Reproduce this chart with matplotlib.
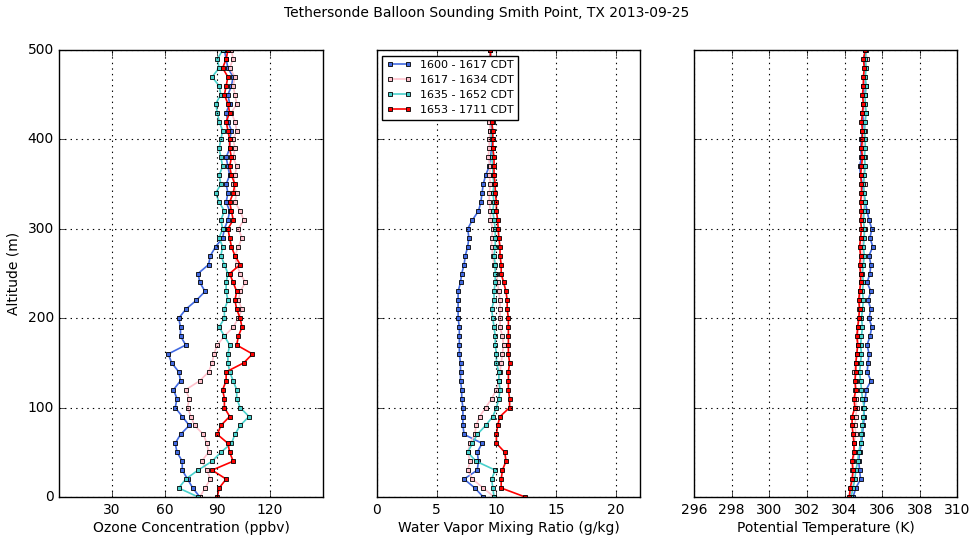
import numpy as np
import matplotlib
matplotlib.use("Agg")
import matplotlib.pyplot as plt

# Tethersonde profiles, Smith Point TX, 2013-09-25
# values read off the soundings every 10 m

alt = np.arange(0, 501, 10)

labels = ["1600 - 1617 CDT", "1617 - 1634 CDT",
          "1635 - 1652 CDT", "1653 - 1711 CDT"]
colors = ["royalblue", "pink", "mediumturquoise", "red"]

#-- ozone (ppbv)
o3_1600 = [80, 76, 73, 70, 70, 67, 66, 69, 74, 70, 66, 67, 65, 69, 68, 64, 62,
           72, 69, 69, 68, 72, 78, 83, 80, 79, 85, 86, 89, 93, 94, 96, 97, 95,
           96, 95, 97, 96, 95, 97, 97, 98, 96, 95, 97, 96, 98, 99, 96, 95, 94]
o3_1617 = [80, 83, 86, 84, 81, 85, 84, 82, 77, 75, 73, 74, 72, 80, 85, 87, 88,
           90, 94, 99, 102, 104, 102, 103, 106, 103, 101, 100, 102, 104, 102,
           105, 103, 100, 101, 99, 100, 101, 99, 100, 99, 101, 100, 98, 101,
           100, 99, 100, 97, 99, 98]
o3_1635 = [79, 68, 72, 79, 87, 92, 98, 100, 103, 108, 103, 101, 101, 99, 97,
           96, 96, 97, 94, 91, 94, 94, 96, 95, 95, 96, 94, 92, 93, 91, 93, 92,
           94, 91, 89, 92, 91, 93, 92, 91, 92, 93, 91, 90, 89, 92, 91, 87, 91,
           90, 93]
o3_1653 = [90, 91, 95, 87, 99, 97, 96, 90, 92, 97, 94, 94, 93, 95, 95, 105,
           110, 101, 102, 104, 103, 101, 100, 101, 99, 97, 103, 100, 98, 97,
           96, 99, 98, 97, 99, 100, 98, 97, 98, 97, 97, 96, 95, 97, 96, 94, 95,
           96, 93, 95, 96]

#-- water vapour mixing ratio (g/kg)
qv_1600 = [8.9, 8.2, 7.3, 8.4, 8.5, 8.4, 8.8, 7.3, 7.2, 7.2, 7.2, 7.1, 7.1,
           7.0, 7.0, 7.0, 6.9, 6.9, 6.9, 6.9, 6.8, 6.8, 6.8, 6.8, 7.0, 7.1,
           7.3, 7.4, 7.6, 7.7, 7.6, 8.0, 8.5, 8.7, 8.8, 8.9, 9.1, 9.4, 9.5,
           9.6, 9.6, 9.5, 9.6, 9.5, 9.4, 9.5, 9.6, 9.5, 9.4, 9.5, 9.5]
qv_1617 = [9.8, 8.9, 8.0, 7.6, 7.8, 7.6, 7.8, 8.2, 8.3, 8.6, 9.1, 9.6, 10.0,
           10.2, 10.3, 10.4, 10.5, 10.6, 10.5, 10.3, 10.3, 10.3, 10.3, 10.2,
           10.1, 10.0, 9.8, 9.7, 9.6, 9.6, 9.7, 9.5, 9.5, 9.4, 9.4, 9.5, 9.4,
           9.5, 9.3, 9.4, 9.4, 9.5, 9.4, 9.5, 9.4, 9.5, 9.4, 9.5, 9.4, 9.5,
           9.5]
qv_1635 = [9.8, 9.7, 9.6, 9.9, 8.3, 7.6, 8.0, 8.4, 9.1, 9.7, 10.0, 10.2, 10.3,
           10.2, 10.2, 10.0, 10.0, 9.9, 9.9, 9.8, 9.7, 9.6, 9.8, 9.8, 9.9, 9.9,
           9.9, 9.8, 9.9, 9.9, 9.9, 9.8, 9.7, 9.8, 9.7, 9.8, 9.7, 9.7, 9.6,
           9.7, 9.6, 9.6, 9.7, 9.6, 9.6, 9.5, 9.6, 9.5, 9.6, 9.5, 9.5]
qv_1653 = [12.4, 10.4, 10.4, 10.5, 10.8, 10.7, 10.0, 10.0, 10.1, 10.3, 11.1,
           11.1, 11.0, 11.0, 11.0, 11.1, 11.0, 11.0, 11.0, 11.0, 11.0, 10.9,
           10.9, 10.8, 10.6, 10.4, 10.4, 10.3, 10.3, 10.2, 10.15, 10.1, 10.0,
           10.0, 9.9, 9.9, 9.8, 9.8, 9.8, 9.7, 9.7, 9.7, 9.6, 9.6, 9.6, 9.6,
           9.5, 9.6, 9.5, 9.5, 9.5]

#-- potential temperature (K)
th_1600 = [304.45, 304.6, 304.85, 304.8, 304.75, 304.8, 304.9, 304.95, 305.0,
           305.05, 305.0, 305.1, 305.15, 305.4, 305.2, 305.25, 305.3, 305.2,
           305.35, 305.45, 305.3, 305.4, 305.25, 305.4, 305.2, 305.35, 305.4,
           305.3, 305.5, 305.35, 305.45, 305.3, 305.2, 305.1, 305.0, 304.95,
           304.85, 304.8, 304.9, 304.85, 304.9, 304.95, 305.0, 304.95, 305.0,
           305.05, 305.0, 305.05, 305.1, 305.05, 305.1]
th_1617 = [304.3, 304.35, 304.5, 304.4, 304.45, 304.55, 304.5, 304.6, 304.55,
           304.6, 304.65, 304.6, 304.55, 304.6, 304.5, 304.6, 304.65, 304.7,
           304.75, 304.7, 304.8, 304.75, 304.85, 304.8, 304.9, 304.85, 304.9,
           304.95, 304.9, 305.0, 305.1, 304.95, 305.0, 305.05, 304.95, 305.1,
           305.0, 305.05, 305.1, 305.0, 305.05, 305.1, 305.05, 305.15, 305.0,
           305.1, 305.15, 305.05, 305.1, 305.2, 305.1]
th_1635 = [304.35, 304.45, 304.55, 304.6, 304.7, 304.75, 304.85, 304.9,
           304.95, 305.0, 305.05, 304.95, 304.9, 304.85, 304.8, 304.85, 304.9,
           304.85, 304.9, 304.95, 304.9, 304.95, 305.0, 304.95, 305.0, 304.95,
           305.0, 305.05, 305.0, 305.05, 305.05, 305.0, 305.05, 305.1, 305.05,
           305.0, 305.05, 305.1, 305.05, 305.1, 305.1, 305.05, 305.1, 305.15,
           305.1, 305.1, 305.15, 305.1, 305.15, 305.1, 305.15]
th_1653 = [304.25, 304.3, 304.4, 304.45, 304.4, 304.5, 304.5, 304.45, 304.4,
           304.4, 304.55, 304.5, 304.6, 304.55, 304.6, 304.6, 304.65, 304.7,
           304.65, 304.7, 304.75, 304.8, 304.75, 304.8, 304.85, 304.85, 304.8,
           304.85, 304.8, 304.85, 304.9, 304.85, 304.9, 304.85, 304.9, 304.9,
           304.85, 304.9, 304.95, 304.9, 304.95, 304.95, 304.9, 304.95, 305.0,
           304.95, 305.0, 305.0, 305.05, 305.0, 305.1]


def draw_profiles(ax, series, show_legend=False):

#-- one line per sounding, square markers with black edges

    for vals, col, lab in zip(series, colors, labels):
        ax.plot(vals, alt, "-s", color=col, lw=1.2, ms=3.0,
                mfc=col, mec="k", mew=0.6, label=lab)

    ax.set_ylim(0, 500)
    ax.set_yticks(np.arange(0, 501, 100))
    ax.grid(True, color="k", linestyle=":", linewidth=0.8)
    ax.tick_params(direction="in", top=True, right=True,
                   labelsize=10, length=4)

    if (show_legend):
        ax.legend(loc="upper left", fontsize=8, numpoints=2,
                  fancybox=False, framealpha=1.0, edgecolor="k",
                  handlelength=2.2, borderpad=0.4, labelspacing=0.45)


plt.style.use("classic")

fig, axs = plt.subplots(1, 3, figsize=(9.73, 5.39), dpi=100,
                        facecolor="w")
fig.subplots_adjust(left=0.061, right=0.984, bottom=0.078,
                    top=0.907, wspace=0.205)

draw_profiles(axs[0], [o3_1600, o3_1617, o3_1635, o3_1653])
axs[0].set_xlim(0, 150)
axs[0].set_xticks([30, 60, 90, 120])
axs[0].set_xlabel("Ozone Concentration (ppbv)", fontsize=10)
axs[0].set_ylabel("Altitude (m)", fontsize=10)

draw_profiles(axs[1], [qv_1600, qv_1617, qv_1635, qv_1653],
              show_legend=True)
axs[1].set_xlim(0, 22)
axs[1].set_xticks([0, 5, 10, 15, 20])
axs[1].set_xlabel("Water Vapor Mixing Ratio (g/kg)", fontsize=10)
axs[1].set_yticklabels([])

draw_profiles(axs[2], [th_1600, th_1617, th_1635, th_1653])
axs[2].set_xlim(296, 310)
axs[2].set_xticks(np.arange(296, 311, 2))
axs[2].set_xlabel("Potential Temperature (K)", fontsize=10)
axs[2].set_yticklabels([])

for ax in axs:
    ax.set_facecolor("w")
    ax.xaxis.labelpad = 3

fig.suptitle("Tethersonde Balloon Sounding Smith Point, TX 2013-09-25",
             fontsize=10, y=0.988)

fig.savefig("out.png", dpi=100, facecolor="w")
